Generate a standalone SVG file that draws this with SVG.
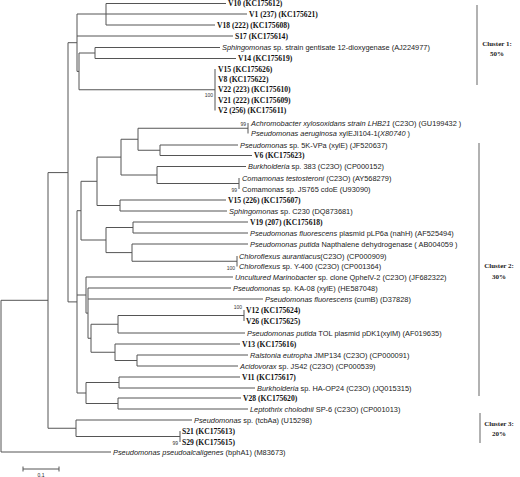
<svg xmlns="http://www.w3.org/2000/svg" width="520" height="477" viewBox="0 0 520 477">
<style>
.br{stroke:#555;stroke-width:1;fill:none}
.sp{font-family:"Liberation Sans",Arial,sans-serif;font-size:7.4px;fill:#222}
.it{font-style:italic}
.iso{font-family:"Liberation Serif","Times New Roman",serif;font-weight:bold;font-size:7.6px;fill:#111}
.bs{font-family:"Liberation Sans",Arial,sans-serif;font-size:5px;fill:#333;text-anchor:end}
.bar{stroke:#999;stroke-width:1.5}
.cl{font-family:"Liberation Serif","Times New Roman",serif;font-weight:bold;font-size:7px;fill:#222;text-anchor:middle}
</style>
<rect width="520" height="477" fill="#fff"/>
<g id="connectors" class="br">
<path d="M1,300.3V452M1,300.3H48M1,452H111
M48,172.6V428.25M48,172.6H68M48,428.25H76
M76,420V436.5M76,420H192M76,436.5H180M180,431V442
M68,42.7V301.9M68,42.7H77M68,301.9H77
M77,14V71.4M77,14H106M77,36H233M77,71.4H79
M106,3.5V25M106,3.5H226M106,14H247M106,25H215
M79,53V89.75M79,53H95M79,89.75H215
M95,47.5V58.5M95,47.5H220M95,58.5H236
M215,69V110.5
M77,210.7V393M77,210.7H81M77,295H86M77,393H86
M81,181.3V240M81,181.3H97M81,240H106
M97,157.1V205.5M97,157.1H121M97,205.5H120
M121,139.25V175M121,139.25H138M121,175H157
M138,128.25V150.25M138,128.25H248M138,150.25H160
M248,123V133.5
M160,145V155.5M160,145H238M160,155.5H252
M157,166.5V183.5M157,166.5H246M157,183.5H239
M239,178V189
M120,200V211M120,200H226M120,211H227
M106,227.5V252.6M106,227.5H133M106,252.6H132
M133,222V233M133,222H248M133,233H248
M132,244V261.25M132,244H248M132,261.25H237
M237,256V266.5
M86,277V313.1M86,277H233M86,313.1H88
M88,288V338.25M88,288H231M88,299H263M88,338.25H91
M91,324.25V352.25M91,324.25H118M91,352.25H115
M118,315.5V333M118,315.5H244M118,333H245
M244,310V321
M115,344V360.5M115,344H240M115,360.5H137
M137,355V366M137,355H248M137,366H238
M86,382.5V403.5M86,382.5H119M86,403.5H118
M119,377V388M119,377H240M119,388H255
M118,398V409M118,398H241M118,409H248"/>
<path d="M23,469H59M23,466.5V471.5M59,466.5V471.5"/>
</g>
<g id="bootstrap">
<text class="bs" x="213" y="97">100</text>
<text class="bs" x="246" y="126">99</text>
<text class="bs" x="237" y="191.5">99</text>
<text class="bs" x="235" y="270">100</text>
<text class="bs" x="242" y="309">100</text>
<text class="bs" x="178" y="444.5">99</text>
</g>
<g id="leaves">
<g id="n-V10"><text class="iso" x="228" y="6.3">V10 (KC175612)</text></g>
<g id="n-V1"><text class="iso" x="249" y="16.8">V1 (237) (KC175621)</text></g>
<g id="n-V18"><text class="iso" x="217" y="27.8">V18 (222) (KC175608)</text></g>
<g id="n-S17"><text class="iso" x="235" y="38.8">S17 (KC175614)</text></g>
<g id="n-sphg"><text class="sp" x="222" y="50.2"><tspan class="it">Sphingomonas</tspan> sp. strain gentisate 12-dioxygenase (AJ224977)</text></g>
<g id="n-V14"><text class="iso" x="238" y="61.3">V14 (KC175619)</text></g>
<g id="n-V15"><text class="iso" x="218" y="71.8">V15 (KC175626)</text></g>
<g id="n-V8"><text class="iso" x="218" y="81.8">V8 (KC175622)</text></g>
<g id="n-V22"><text class="iso" x="218" y="92.3">V22 (223) (KC175610)</text></g>
<g id="n-V21"><text class="iso" x="218" y="102.8">V21 (222) (KC175609)</text></g>
<g id="n-V2"><text class="iso" x="218" y="113.3">V2 (256) (KC175611)</text></g>
<g id="n-achro"><text class="sp" x="251" y="125.7"><tspan class="it">Achromobacter xylosoxidans strain LHB21</tspan> (C23O) (GU199432 )</text></g>
<g id="n-paer"><text class="sp" x="251" y="136.2"><tspan class="it">Pseudomonas aeruginosa</tspan> xylEJI104-1(<tspan class="it">X80740</tspan> )</text></g>
<g id="n-5k"><text class="sp" x="240" y="147.7"><tspan class="it">Pseudomonas</tspan> sp. 5K-VPa (xylE) (JF520637)</text></g>
<g id="n-V6"><text class="iso" x="254" y="158.3">V6 (KC175623)</text></g>
<g id="n-burk383"><text class="sp" x="248" y="169.2"><tspan class="it">Burkholderia</tspan> sp. 383 (C23O) (CP000152)</text></g>
<g id="n-comt"><text class="sp" x="242" y="180.7"><tspan class="it">Comamonas testosteroni</tspan> (C23O) (AY568279)</text></g>
<g id="n-coms"><text class="sp" x="242" y="191.7">Comamonas sp. JS765 cdoE (U93090)</text></g>
<g id="n-V15b"><text class="iso" x="228" y="202.8">V15 (226) (KC175607)</text></g>
<g id="n-sphc"><text class="sp" x="229" y="213.7"><tspan class="it">Sphingomonas</tspan> sp. C230 (DQ873681)</text></g>
<g id="n-V19"><text class="iso" x="250" y="224.8">V19 (207) (KC175618)</text></g>
<g id="n-plp"><text class="sp" x="250" y="235.7"><tspan class="it">Pseudomonas fluorescens</tspan> plasmid pLP6a (nahH) (AF525494)</text></g>
<g id="n-pnaph"><text class="sp" x="250" y="246.7"><tspan class="it">Pseudomonas putida</tspan> Napthalene dehydrogenase ( AB004059 )</text></g>
<g id="n-chla"><text class="sp" x="239" y="258.7"><tspan class="it">Chloroflexus aurantiacus</tspan>(C23O) (CP000909)</text></g>
<g id="n-chls"><text class="sp" x="239" y="269.2"><tspan class="it">Chloroflexus</tspan> sp. Y-400 (C23O) (CP001364)</text></g>
<g id="n-mari"><text class="sp" x="235" y="279.7"><tspan class="it">Uncultured Marinobacter</tspan> sp. clone QphelV-2 (C23O) (JF682322)</text></g>
<g id="n-ka08"><text class="sp" x="233" y="290.7"><tspan class="it">Pseudomonas</tspan> sp. KA-08 (xylE) (HE587048)</text></g>
<g id="n-cumb"><text class="sp" x="265" y="301.7"><tspan class="it">Pseudomonas fluorescens</tspan> (cumB) (D37828)</text></g>
<g id="n-V12"><text class="iso" x="246" y="312.8">V12 (KC175624)</text></g>
<g id="n-V26"><text class="iso" x="246" y="323.8">V26 (KC175625)</text></g>
<g id="n-pdk1"><text class="sp" x="247" y="335.7"><tspan class="it">Pseudomonas putida</tspan> TOL plasmid pDK1(xylM) (AF019635)</text></g>
<g id="n-V13"><text class="iso" x="242" y="346.8">V13 (KC175616)</text></g>
<g id="n-ralst"><text class="sp" x="250" y="357.7"><tspan class="it">Ralstonia eutropha</tspan> JMP134 (C23O) (CP000091)</text></g>
<g id="n-acid"><text class="sp" x="240" y="368.7"><tspan class="it">Acidovorax</tspan> sp. JS42 (C23O) (CP000539)</text></g>
<g id="n-V11"><text class="iso" x="242" y="379.8">V11 (KC175617)</text></g>
<g id="n-burkha"><text class="sp" x="257" y="390.7"><tspan class="it">Burkholderia</tspan>  sp. HA-OP24 (C23O) (JQ015315)</text></g>
<g id="n-V28"><text class="iso" x="243" y="400.8">V28 (KC175620)</text></g>
<g id="n-lept"><text class="sp" x="250" y="411.7"><tspan class="it">Leptothrix cholodnii</tspan> SP-6 (C23O) (CP001013)</text></g>
<g id="n-tcb"><text class="sp" x="194" y="422.7"><tspan class="it">Pseudomonas</tspan> sp. (tcbAa) (U15298)</text></g>
<g id="n-S21"><text class="iso" x="182" y="433.8">S21 (KC175613)</text></g>
<g id="n-S29"><text class="iso" x="182" y="444.8">S29 (KC175615)</text></g>
<g id="n-pseudoalc"><text class="sp" x="113" y="454.7"><tspan class="it">Pseudomonas pseudoalcaligenes</tspan> (bphA1) (M83673)</text></g>
</g>
<g id="clusters">
<g id="cluster1"><line class="bar" x1="477" y1="5" x2="477" y2="85"/><text class="cl" x="497" y="46">Cluster 1:</text><text class="cl" x="497" y="56">50%</text></g>
<g id="cluster2"><line class="bar" x1="479" y1="143" x2="479" y2="396"/><text class="cl" x="499" y="268">Cluster 2:</text><text class="cl" x="499" y="279">30%</text></g>
<g id="cluster3"><line class="bar" x1="480" y1="413" x2="480" y2="443"/><text class="cl" x="499" y="426">Cluster 3:</text><text class="cl" x="499" y="436">20%</text></g>
</g>
<g id="scale"><text class="sp" x="41" y="476.5" text-anchor="middle" style="font-size:5px">0.1</text></g>
</svg>
